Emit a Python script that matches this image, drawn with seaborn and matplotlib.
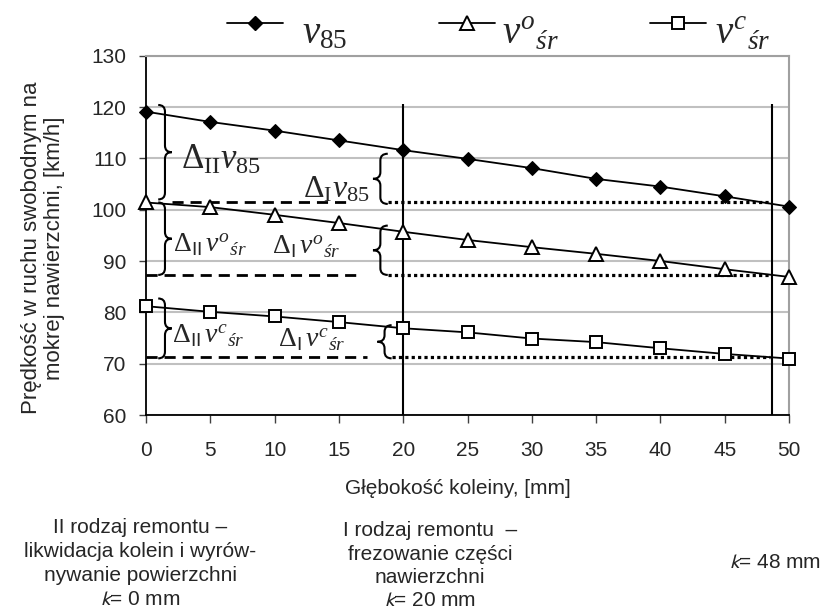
import numpy as np
import pandas as pd
import matplotlib
matplotlib.use("Agg")
import matplotlib.pyplot as plt
import seaborn as sns
from matplotlib.path import Path
from matplotlib.patches import PathPatch
from matplotlib.lines import Line2D

# ---------------- data ----------------
depth = [0, 5, 10, 15, 20, 25, 30, 35, 40, 45, 50]
v85 = [119.1, 117.1, 115.4, 113.5, 111.6, 109.9, 108.1, 106.0, 104.5, 102.6, 100.6]
v_o = [101.4, 100.5, 99.0, 97.4, 95.7, 94.1, 92.7, 91.4, 90.0, 88.4, 86.9]
v_c = [81.2, 80.1, 79.2, 78.1, 76.9, 76.1, 74.9, 74.2, 73.0, 71.9, 71.0]
repair_lines = [20, 48.7]          # vertical lines (k = 20 mm, k = 48 mm)
yticks = [60, 70, 80, 90, 100, 110, 120, 130]
xticks = [0, 5, 10, 15, 20, 25, 30, 35, 40, 45, 50]
labels = [r"$v_{85}$", r"$v^{o}{}_{śr}$", r"$v^{c}{}_{śr}$"]

sns.set_style("white")
plt.rcParams["font.family"] = ["Liberation Sans", "DejaVu Sans"]
plt.rcParams["mathtext.fontset"] = "custom"
plt.rcParams["mathtext.rm"] = "Liberation Serif"
plt.rcParams["mathtext.it"] = "Liberation Serif:italic"
plt.rcParams["mathtext.bf"] = "Liberation Serif:bold"
plt.rcParams["mathtext.sf"] = "Liberation Sans"

W, H = 822, 615
fig = plt.figure(figsize=(W / 100, H / 100), dpi=100)
ax = fig.add_axes([146/W, 1-415/H, (789-146)/W, (415-55.7)/H])

df = pd.DataFrame({"depth": depth, "v85": v85, "vo": v_o, "vc": v_c})
styles = [
    dict(marker="D", markersize=7.5, markerfacecolor="black", markeredgecolor="black"),
    dict(marker="^", markersize=9.5, markerfacecolor="white", markeredgecolor="black",
         markeredgewidth=1.4),
    dict(marker="s", markersize=8.5, markerfacecolor="white", markeredgecolor="black",
         markeredgewidth=1.4),
]
for col, st in zip(["v85", "vo", "vc"], styles):
    sns.lineplot(data=df, x="depth", y=col, color="black", linewidth=1.3, ax=ax,
                 clip_on=False, zorder=5, **st)

ax.set_xlim(0, 50)
ax.set_ylim(60, 130)
ax.set_xticks(xticks)
ax.set_yticks(yticks)
ax.set_xlabel("")
ax.set_ylabel("")
ax.grid(axis="y", color="#c0c0c0", linewidth=1.5, zorder=0)
ax.grid(axis="x", visible=False)
for s in ["top", "right"]:
    ax.spines[s].set_color("#a0a0a0")
    ax.spines[s].set_linewidth(1.5)
for s in ["left", "bottom"]:
    ax.spines[s].set_color("black")
    ax.spines[s].set_linewidth(1.3)
ax.tick_params(axis="x", direction="out", length=6, width=1, color="#404040",
               pad=13, labelsize=15, bottom=True)
ax.tick_params(axis="y", direction="out", length=5, width=1, color="#404040",
               pad=9, labelsize=15, left=True)

# vertical repair lines
ax.vlines(repair_lines, 60, 120.5, colors="black", linewidth=1.5, zorder=4)

# reference levels at k = 48 mm
x_arr = np.array(depth, dtype=float)
k48 = repair_lines[1]
lev85 = float(np.interp(k48, x_arr, v85))
levo = float(np.interp(k48, x_arr, v_o))
levc = float(np.interp(k48, x_arr, v_c))

dash = dict(color="black", linewidth=2, linestyle=(0, (4, 2.5)), zorder=3)
dot = dict(color="black", linewidth=2.3, linestyle=(0, (1, 1)), zorder=3)
ax.plot([2.0, 15.8], [v_o[0], v_o[0]], **dash)
ax.plot([0.0, 16.4], [levo, levo], **dash)
ax.plot([0.0, 17.2], [levc, levc], **dash)
ax.plot([18.8, 48.5], [v_o[0], v_o[0]], **dot)
ax.plot([18.8, 48.5], [levo, levo], **dot)
ax.plot([19.1, 48.5], [levc, levc], **dot)


def brace(x_end, x_tip, y_top, y_bot, r=1.3):
    xm = (x_end + x_tip) / 2
    ym = (y_top + y_bot) / 2
    verts = [(x_end, y_top), (xm, y_top), (xm, y_top - r),
             (xm, ym + r), (xm, ym), (x_tip, ym),
             (xm, ym), (xm, ym - r),
             (xm, y_bot + r), (xm, y_bot), (x_end, y_bot)]
    codes = [Path.MOVETO, Path.CURVE3, Path.CURVE3,
             Path.LINETO, Path.CURVE3, Path.CURVE3,
             Path.CURVE3, Path.CURVE3,
             Path.LINETO, Path.CURVE3, Path.CURVE3]
    ax.add_patch(PathPatch(Path(verts, codes), facecolor="none",
                           edgecolor="black", linewidth=1.5, zorder=6, clip_on=False))


brace(0.95, 2.0, v85[0] + 1.3, v_o[0] + 0.6)
brace(18.8, 17.65, v85[4] - 0.7, lev85)
brace(0.95, 2.0, v_o[0], levo)
brace(18.8, 17.65, v_o[4] + 1.2, levo)
brace(0.95, 2.0, v_c[0] + 1.5, levc - 0.2)
brace(19.1, 18.0, v_c[4] + 0.6, levc - 0.2)

ann = dict(va="baseline", ha="left", zorder=7)
ax.text(2.75, 108.0, r"$\Delta_{\mathrm{II}}v_{85}$", fontsize=25, **ann)
ax.text(12.2, 102.3, r"$\Delta_{\mathrm{I}}v_{85}$", fontsize=23, **ann)
ax.text(2.1, 91.7, r"$\Delta_{\mathsf{II}}\,v^{o}{}_{śr}$", fontsize=20, **ann)
ax.text(9.8, 91.4, r"$\Delta_{\mathsf{I}}\,v^{o}{}_{śr}$", fontsize=20, **ann)
ax.text(2.0, 74.1, r"$\Delta_{\mathsf{II}}\,v^{c}{}_{śr}$", fontsize=20, **ann)
ax.text(10.3, 73.2, r"$\Delta_{\mathsf{I}}\,v^{c}{}_{śr}$", fontsize=20, **ann)

# legend (drawn as a key row above the plot)
leg_handle_x = [226.7, 439.0, 650.0]
leg_text_x = [301.7, 501.7, 714.7]
for hx, tx, st, lab in zip(leg_handle_x, leg_text_x, styles, labels):
    xs = [(hx) / W, (hx + 28) / W, (hx + 56) / W]
    ln = Line2D(xs, [1 - 22.7/H] * 3, transform=fig.transFigure, color="black",
                linewidth=1.3, markevery=[1], **st)
    fig.add_artist(ln)
    fig.text(tx / W, 1 - 43/H, lab, ha="left", va="baseline", fontsize=28)

# axis titles and notes
fig.text(458/W, 1-488/H, "Głębokość koleiny, [mm]", ha="center", va="center", fontsize=15)
fig.text(43/W, 1-248/H, "Prędkość w ruchu swobodnym na\nmokrej nawierzchni, [km/h]",
         ha="center", va="center", rotation=90, fontsize=16, linespacing=1.15)
fig.text(140/W, 1-518/H,
         "II rodzaj remontu –\nlikwidacja kolein i wyrów-\nnywanie powierzchni\n$k$= 0 mm",
         ha="center", va="top", fontsize=15, linespacing=1.33, multialignment="center",
         math_fontfamily="stixsans")
fig.text(430/W, 1-521/H,
         "I rodzaj remontu  –\nfrezowanie części\nnawierzchni\n$k$= 20 mm",
         ha="center", va="top", fontsize=15, linespacing=1.3, multialignment="center",
         math_fontfamily="stixsans")
fig.text(821/W, 1-562/H, "$k$= 48 mm", ha="right", va="center", fontsize=15,
         math_fontfamily="stixsans")

fig.savefig("out.png", dpi=100)
